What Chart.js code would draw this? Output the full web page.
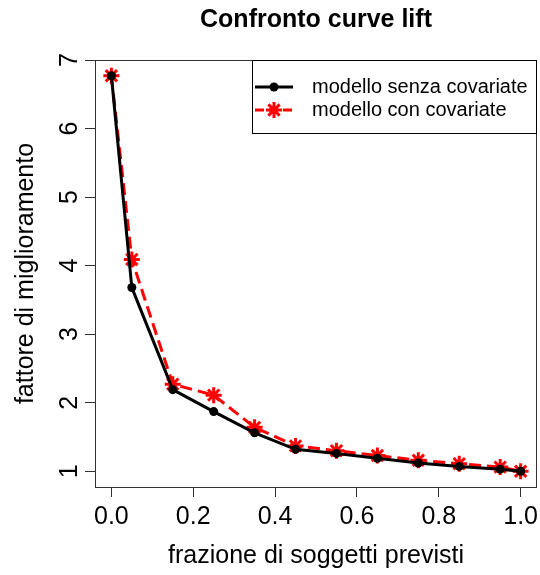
<!DOCTYPE html>
<html>
<head>
<meta charset="utf-8">
<script src="https://cdn.jsdelivr.net/npm/chart.js@4.4.1/dist/chart.umd.min.js"></script>
<style>
  html, body { margin: 0; padding: 0; background: #fff; }
  #wrap { width: 540px; height: 575px; }
</style>
</head>
<body>
<div id="wrap"><canvas id="liftChart" width="540" height="575"></canvas></div>
<script>
// frazione di soggetti previsti
const frazioni = [0, 0.05, 0.15, 0.25, 0.35, 0.45, 0.55, 0.65, 0.75, 0.85, 0.95, 1.0];
// fattore di miglioramento per i due modelli
const senzaCovariate = [6.77, 3.68, 2.19, 1.87, 1.56, 1.32, 1.26, 1.19, 1.12, 1.07, 1.03, 1.00];
const conCovariate = [6.77, 4.09, 2.27, 2.11, 1.64, 1.37, 1.30, 1.23, 1.16, 1.11, 1.06, 1.00];
const xTicks = [0, 0.2, 0.4, 0.6, 0.8, 1.0];
const yTicks = [1, 2, 3, 4, 5, 6, 7];
const legendLabels = ['modello senza covariate', 'modello con covariate'];

const FONT = '"Liberation Sans", Arial, Helvetica, sans-serif';
const toPoints = (ys) => frazioni.map((x, i) => ({ x: x, y: ys[i] }));

// R-style box around the plot region + rotated y tick labels
const boxPlugin = {
    id: 'rBox',
    afterDraw(chart) {
        const { ctx, chartArea: a, scales } = chart;
        ctx.save();
        ctx.strokeStyle = '#333';
        ctx.lineWidth = 1;
        ctx.strokeRect(a.left + 0.5, a.top + 0.5, a.right - a.left - 1, a.bottom - a.top);

        ctx.fillStyle = '#000';
        ctx.font = '25px ' + FONT;
        ctx.textAlign = 'center';
        ctx.textBaseline = 'alphabetic';
        yTicks.forEach(v => {
            const y = scales.y.getPixelForValue(v);
            ctx.save();
            ctx.translate(a.left - 18, y);
            ctx.rotate(-Math.PI / 2);
            ctx.fillText(String(v), 0, 0);
            ctx.restore();
        });
        ctx.restore();
    }
};

// legend box in the top right corner, line + symbol like R's legend()
const legendPlugin = {
    id: 'rLegend',
    afterDraw(chart) {
        const { ctx, chartArea: a } = chart;
        const w = 285, h = 74;
        const x0 = a.right - w, y0 = a.top;
        ctx.save();
        ctx.fillStyle = '#fff';
        ctx.fillRect(x0, y0, w, h);
        ctx.strokeStyle = '#000';
        ctx.lineWidth = 1;
        ctx.strokeRect(x0 + 0.5, y0 + 0.5, w - 1, h - 1);

        const rows = [y0 + 27, y0 + 50];
        chart.data.datasets.forEach((ds, i) => {
            const y = rows[i];
            ctx.save();
            ctx.strokeStyle = ds.borderColor;
            ctx.lineWidth = ds.borderWidth;
            ctx.setLineDash(i === 1 ? [9, 5] : []);
            ctx.beginPath();
            ctx.moveTo(x0 + 3, y);
            ctx.lineTo(x0 + 41, y);
            ctx.stroke();
            ctx.setLineDash([]);
            ctx.fillStyle = ds.pointBackgroundColor || ds.borderColor;
            ctx.strokeStyle = ds.pointBorderColor;
            ctx.lineWidth = ds.pointBorderWidth;
            Chart.helpers.drawPoint(ctx, {
                pointStyle: ds.pointStyle,
                radius: ds.pointRadius,
                borderWidth: ds.pointBorderWidth,
                rotation: 0
            }, x0 + 22, y);
            ctx.restore();
            ctx.fillStyle = '#000';
            ctx.font = '20px ' + FONT;
            ctx.textAlign = 'left';
            ctx.textBaseline = 'middle';
            ctx.fillText(legendLabels[i], x0 + 60, y);
        });
        ctx.restore();
    }
};

const axisGrid = {
    display: true,
    drawOnChartArea: false,
    drawTicks: true,
    tickLength: 10,
    color: '#333',
    lineWidth: 1
};

new Chart(document.getElementById('liftChart'), {
    type: 'line',
    data: {
        datasets: [{
            label: legendLabels[0],
            data: toPoints(senzaCovariate),
            borderColor: '#000',
            backgroundColor: '#000',
            borderWidth: 3,
            pointStyle: 'circle',
            pointRadius: 4.5,
            pointBackgroundColor: '#000',
            pointBorderColor: '#000',
            pointBorderWidth: 0,
            order: 0
        }, {
            label: legendLabels[1],
            data: toPoints(conCovariate),
            borderColor: '#ff0000',
            backgroundColor: '#ff0000',
            borderWidth: 3,
            borderDash: [12, 6],
            pointStyle: 'star',
            pointRadius: 8,
            pointBackgroundColor: '#ff0000',
            pointBorderColor: '#ff0000',
            pointBorderWidth: 3,
            order: 1
        }]
    },
    options: {
        responsive: false,
        animation: false,
        events: [],
        layout: { autoPadding: false, padding: { right: 3 } },
        plugins: {
            legend: { display: false },
            tooltip: { enabled: false },
            title: {
                display: true,
                fullSize: false,
                text: 'Confronto curve lift',
                color: '#000',
                font: { family: FONT, size: 25, weight: 'bold' },
                padding: { top: 5, bottom: 25 }
            }
        },
        scales: {
            x: {
                type: 'linear',
                min: -0.04,
                max: 1.04,
                afterBuildTicks: (s) => { s.ticks = xTicks.map(v => ({ value: v })); },
                afterFit: (s) => {
                    s.height = 88;
                    s.paddingLeft = 0;
                    s.paddingRight = 0;
                },
                ticks: {
                    callback: (v) => Number(v).toFixed(1),
                    color: '#000',
                    font: { family: FONT, size: 25 },
                    padding: 5,
                    maxRotation: 0,
                    autoSkip: false
                },
                grid: axisGrid,
                border: { display: false },
                title: {
                    display: true,
                    text: 'frazione di soggetti previsti',
                    color: '#000',
                    font: { family: FONT, size: 25 },
                    padding: { top: 0, bottom: 4 }
                }
            },
            y: {
                type: 'linear',
                min: 0.77,
                max: 7.0,
                afterBuildTicks: (s) => { s.ticks = yTicks.map(v => ({ value: v })); },
                afterFit: (s) => {
                    s.width = 95;
                    s.paddingTop = 0;
                    s.paddingBottom = 0;
                },
                ticks: { display: false },
                grid: axisGrid,
                border: { display: false },
                title: {
                    display: true,
                    text: 'fattore di miglioramento',
                    color: '#000',
                    font: { family: FONT, size: 25 },
                    padding: { top: 11, bottom: 0 }
                }
            }
        }
    },
    plugins: [boxPlugin, legendPlugin]
});
</script>
</body>
</html>
